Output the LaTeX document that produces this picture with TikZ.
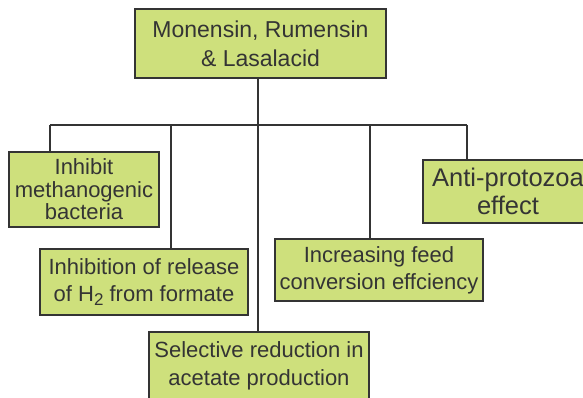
\documentclass[tikz,border=0pt]{standalone}
\usepackage{fontspec}
\setmainfont{Liberation Sans}
\usepackage{xcolor}
\definecolor{boxfill}{RGB}{206,224,124}
\definecolor{ink}{RGB}{52,52,52}
\newcommand{\lowsub}[1]{\raisebox{-0.32ex}{\fontsize{17}{17}\selectfont #1}}

\begin{document}
\begin{tikzpicture}[x=1pt,y=-1pt,
    effect/.style={draw=ink,fill=boxfill,line width=1.4pt,text=ink,
      align=center,inner sep=0pt,font=\fontsize{22}{27}\selectfont},
    link/.style={draw=ink,line width=1.4pt}]
    \useasboundingbox (0,0) rectangle (583,398);

    \node[effect,minimum width=251,minimum height=69,
      font=\fontsize{23}{29}\selectfont] (drug) at (260.5,43.5)
    {Monensin, Rumensin\\\& Lasalacid};

    \node[effect,minimum width=150,minimum height=75,
      font=\fontsize{22}{22.5}\selectfont] (meth) at (84,189.5)
    {Inhibit\\methanogenic\\bacteria};
    \node[effect,minimum width=208,minimum height=66] (hyd) at (144,282)
    {Inhibition of release\\of H\lowsub{2} from formate};
    \node[effect,minimum width=170,minimum height=63,
      font=\fontsize{25.5}{28}\selectfont] (prot) at (508,191.5)
    {Anti-protozoa\\effect};
    \node[effect,minimum width=208,minimum height=62] (feed) at (379,270)
    {Increasing feed\\conversion effciency};
    \node[effect,minimum width=220,minimum height=68,
      font=\fontsize{22}{28}\selectfont] (acet) at (259,366)
    {Selective reduction in\\acetate production};

    % bus line under the top box
    \coordinate (c0) at (258,125);
    \coordinate (c1) at (50,125); \coordinate (c2) at (171,125);
    \coordinate (c4) at (370,125); \coordinate (c5) at (467,125);

    \draw[link] (drug.south -| c0) -- (c0);
    \draw[link] (c1) -- (c5);
    \draw[link] (c1) -- (c1 |- meth.north);
    \draw[link] (c2) -- (c2 |- hyd.north);
    \draw[link] (c0) -- (c0 |- acet.north);
    \draw[link] (c4) -- (c4 |- feed.north);
    \draw[link] (c5) -- (c5 |- prot.north);

  \end{tikzpicture}
\end{document}
